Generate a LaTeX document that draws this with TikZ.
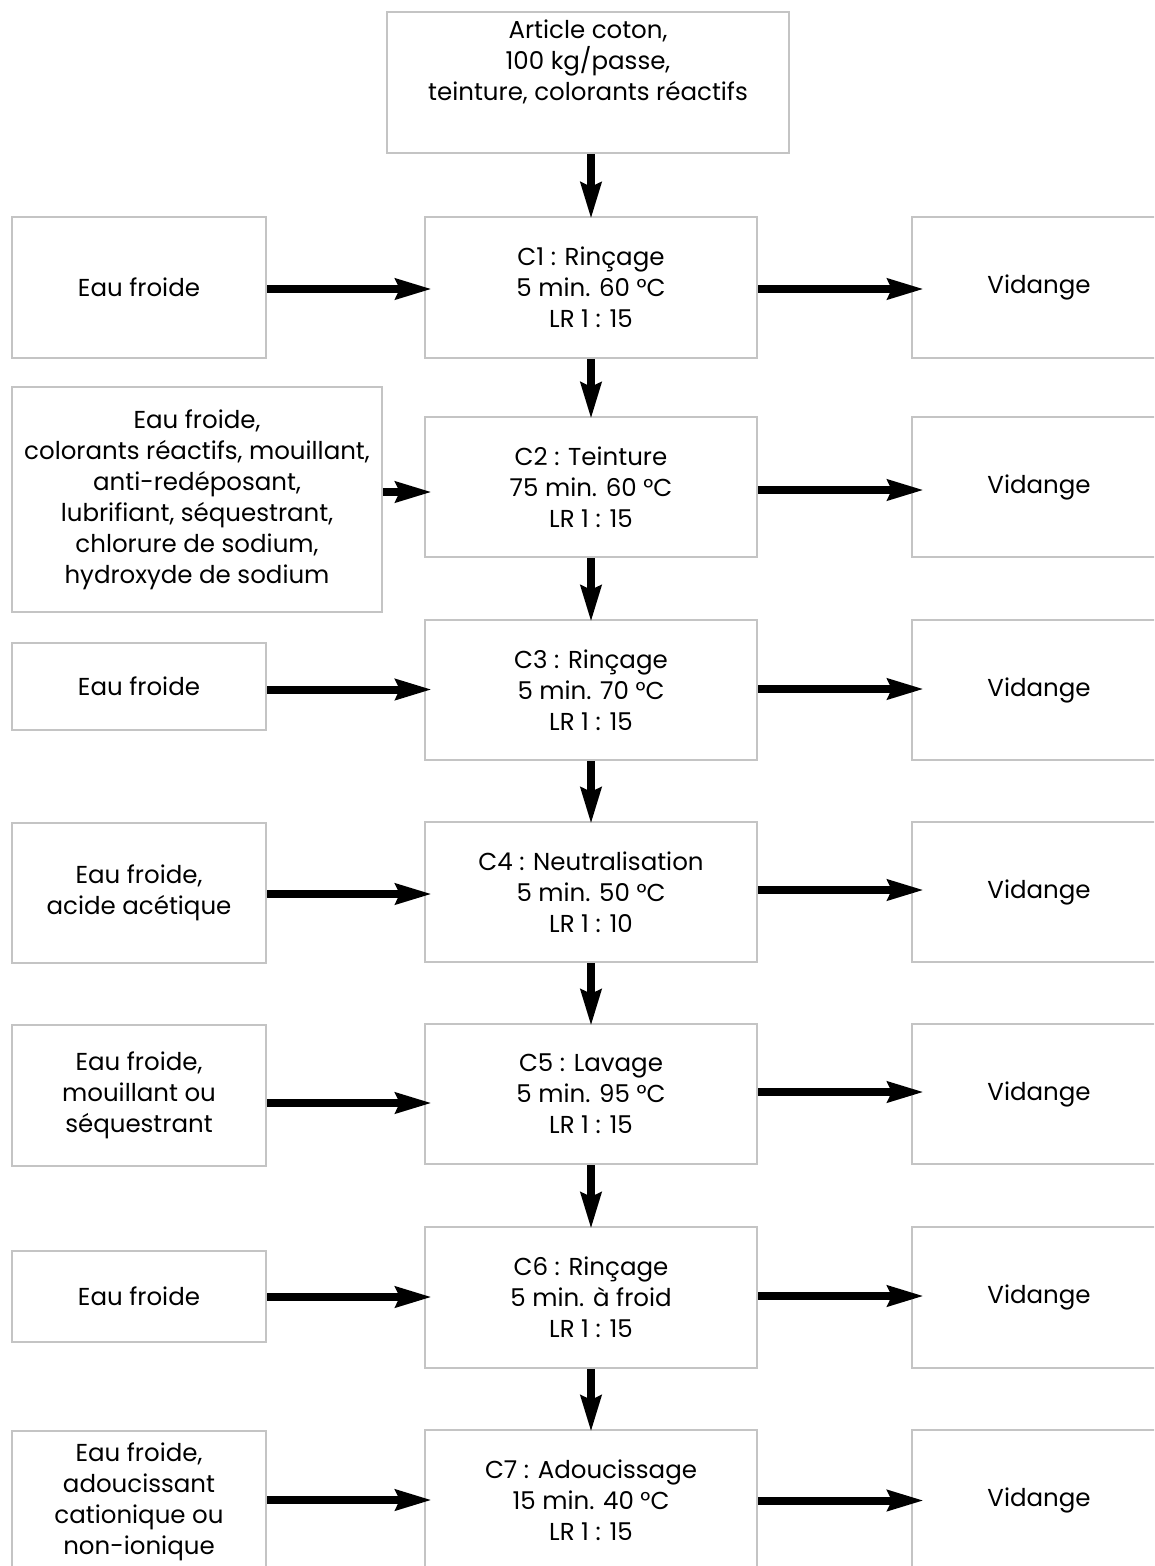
\documentclass[tikz,border=0pt]{standalone}
\usepackage{fontspec}
\setmainfont{Poppins}
\usetikzlibrary{arrows.meta,calc}
\definecolor{boxgray}{RGB}{196,196,196}
\begin{document}
\begin{tikzpicture}[x=1pt,y=-1pt,
  box/.style={draw=boxgray,line width=2pt,align=center,inner sep=0pt,
    font=\fontsize{24.5}{31}\selectfont,minimum height=141pt},
  cbox/.style={box,minimum width=332pt},
  sbox/.style={box,minimum width=254pt},
  arr/.style={line width=8pt,-{Stealth[length=36pt,width=20pt,inset=4pt]}},
  harr/.style={arr,shorten >=-8pt},
  rarr/.style={arr,shorten >=-13pt},
  varr/.style={arr,shorten >=-3pt}]
\useasboundingbox (0,0) rectangle (1154,1566);
\clip (0,0) rectangle (1154,1566);
% top
\node[box,minimum width=402pt,text depth=45pt] (top) at (588,82.5)
  {Article coton,\\100 kg/passe,\\teinture, colorants réactifs};
% centre column
\node[cbox] (c1) at (591,287.5) {C1 : Rinçage\\5 min. 60 °C\\LR 1 : 15};
\node[cbox,minimum height=140pt] (c2) at (591,487) {C2 : Teinture\\75 min. 60 °C\\LR 1 : 15};
\node[cbox,minimum height=140pt] (c3) at (591,690) {C3 : Rinçage\\5 min. 70 °C\\LR 1 : 15};
\node[cbox,minimum height=140pt] (c4) at (591,892) {C4 : Neutralisation\\5 min. 50 °C\\LR 1 : 10};
\node[cbox,minimum height=140pt] (c5) at (591,1094) {C5 : Lavage\\5 min. 95 °C\\LR 1 : 15};
\node[cbox] (c6) at (591,1297.5) {C6 : Rinçage\\5 min. à froid\\LR 1 : 15};
\node[cbox] (c7) at (591,1500.5) {C7 : Adoucissage\\15 min. 40 °C\\LR 1 : 15};
% left column
\node[sbox] (l1) at (139,287.5) {Eau froide};
\node[box,minimum width=370pt,minimum height=225pt] (l2) at (197,499.5)
  {Eau froide,\\colorants réactifs, mouillant,\\anti-redéposant,\\lubrifiant, séquestrant,\\chlorure de sodium,\\hydroxyde de sodium};
\node[sbox,minimum height=87pt] (l3) at (139,686.5) {Eau froide};
\node[sbox,minimum height=140pt] (l4) at (139,893) {Eau froide,\\acide acétique};
\node[sbox] (l5) at (139,1095.5) {Eau froide,\\mouillant ou\\séquestrant};
\node[sbox,minimum height=91pt] (l6) at (139,1296.5) {Eau froide};
\node[sbox] (l7) at (139,1501.5) {Eau froide,\\adoucissant\\cationique ou\\non-ionique};
% right column
\node[sbox] (r1) at (1039,287.5) {Vidange};
\node[sbox,minimum height=140pt] (r2) at (1039,487) {Vidange};
\node[sbox,minimum height=140pt] (r3) at (1039,690) {Vidange};
\node[sbox,minimum height=140pt] (r4) at (1039,892) {Vidange};
\node[sbox,minimum height=140pt] (r5) at (1039,1094) {Vidange};
\node[sbox] (r6) at (1039,1297.5) {Vidange};
\node[sbox] (r7) at (1039,1500.5) {Vidange};
% vertical arrows
\draw[varr] (top.south -| c1.north) -- (c1.north);
\draw[varr] (c1.south) -- (c2.north);
\draw[varr] (c2.south) -- (c3.north);
\draw[varr] (c3.south) -- (c4.north);
\draw[varr] (c4.south) -- (c5.north);
\draw[varr] (c5.south) -- (c6.north);
\draw[varr] (c6.south) -- (c7.north);
% left arrows
\coordinate (a1) at ($(l1.east)+(0,1.5)$);
\coordinate (a2) at ($(l2.east)+(0,-7.5)$);
\coordinate (a3) at ($(l3.east)+(0,3)$);
\coordinate (a4) at ($(l4.east)+(0,1)$);
\coordinate (a5) at ($(l5.east)+(0,7.5)$);
\coordinate (a6) at ($(l6.east)+(0,0.5)$);
\coordinate (a7) at ($(l7.east)+(0,-1.5)$);
\draw[harr] (a1) -- (a1 -| c1.west);
\draw[harr] (a2) -- (a2 -| c2.west);
\draw[harr] (a3) -- (a3 -| c3.west);
\draw[harr] (a4) -- (a4 -| c4.west);
\draw[harr] (a5) -- (a5 -| c5.west);
\draw[harr] (a6) -- (a6 -| c6.west);
\draw[harr] (a7) -- (a7 -| c7.west);
% right arrows
\coordinate (b1) at ($(c1.east)+(0,1.5)$);
\coordinate (b2) at ($(c2.east)+(0,3)$);
\coordinate (b3) at ($(c3.east)+(0,-1)$);
\coordinate (b4) at ($(c4.east)+(0,-2)$);
\coordinate (b5) at ($(c5.east)+(0,-2)$);
\coordinate (b6) at ($(c6.east)+(0,-1.5)$);
\coordinate (b7) at ($(c7.east)+(0,0)$);
\draw[rarr] (b1) -- (b1 -| r1.west);
\draw[rarr] (b2) -- (b2 -| r2.west);
\draw[rarr] (b3) -- (b3 -| r3.west);
\draw[rarr] (b4) -- (b4 -| r4.west);
\draw[rarr] (b5) -- (b5 -| r5.west);
\draw[rarr] (b6) -- (b6 -| r6.west);
\draw[rarr] (b7) -- (b7 -| r7.west);
\end{tikzpicture}
\end{document}
